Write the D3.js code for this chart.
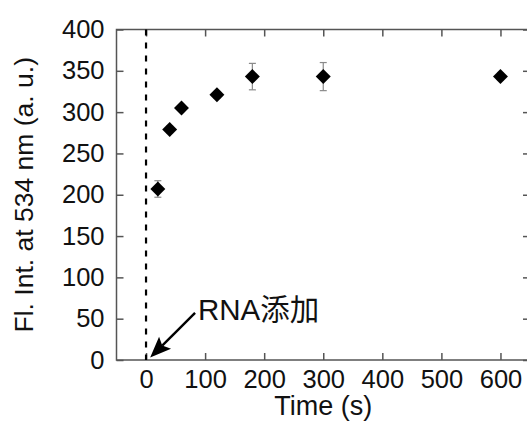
<!DOCTYPE html>
<html>
<head>
<meta charset="utf-8">
<script src="https://cdn.jsdelivr.net/npm/d3@7"></script>
<style>
  html, body { margin: 0; padding: 0; background: #fff; }
  svg { display: block; }
  text { font-family: "Liberation Sans", Arial, sans-serif; fill: #111; }
</style>
</head>
<body>
<svg id="chart" width="527" height="424"></svg>
<script>
// Fluorescence intensity at 534 nm after RNA addition
const times = [20, 40, 60, 120, 180, 300, 600];
const intensity = [207, 279, 305, 321, 343, 343, 343];
const errors = [10, 4, 4, 4, 16, 17, 4];

const xTicks = [0, 100, 200, 300, 400, 500, 600];
const yTicks = [0, 50, 100, 150, 200, 250, 300, 350, 400];
const xDomain = [-50, 650];
const yDomain = [0, 400];

// annotation in data units: arrow from label to the moment of addition
const arrowFrom = [83, 57];
const arrowTo = [7, 3];
const labelAt = [88, 48];
const labelText = "RNA添加";

const svg = d3.select("#chart");
const plotLeft = 116.5, plotRight = 530, plotTop = 29.5, plotBottom = 360;

const x = d3.scaleLinear().domain(xDomain).range([plotLeft, plotRight]);
const y = d3.scaleLinear().domain(yDomain).range([plotBottom, plotTop]);

const axisColor = "#555";
const tickLen = 7;

function styleAxis(g) {
  g.select(".domain").remove();
  g.selectAll(".tick line").attr("stroke", axisColor).attr("stroke-width", 1.5);
  g.selectAll(".tick text").attr("fill", "#111").style("font-size", "25.5px")
    .style("font-family", '"Liberation Sans", Arial, sans-serif');
}

// frame
svg.append("rect")
  .attr("x", plotLeft).attr("y", plotTop)
  .attr("width", plotRight - plotLeft).attr("height", plotBottom - plotTop)
  .attr("fill", "none").attr("stroke", axisColor).attr("stroke-width", 1.5);

svg.append("g").attr("transform", `translate(0,${plotBottom})`)
  .call(d3.axisBottom(x).tickValues(xTicks).tickSize(-tickLen).tickPadding(10))
  .call(styleAxis);
svg.append("g").attr("transform", `translate(0,${plotTop})`)
  .call(d3.axisTop(x).tickValues(xTicks).tickSize(-tickLen).tickFormat(""))
  .call(styleAxis);
svg.append("g").attr("transform", `translate(${plotLeft},0)`)
  .call(d3.axisLeft(y).tickValues(yTicks).tickSize(-tickLen).tickPadding(12))
  .call(styleAxis);
svg.append("g").attr("transform", `translate(${plotRight},0)`)
  .call(d3.axisRight(y).tickValues(yTicks).tickSize(-tickLen).tickFormat(""))
  .call(styleAxis);

// dashed marker at t = 0
svg.append("line")
  .attr("x1", x(0)).attr("x2", x(0))
  .attr("y1", y(yDomain[1])).attr("y2", y(yDomain[0]))
  .attr("stroke", "#000").attr("stroke-width", 2.2)
  .attr("stroke-dasharray", "6,7");

// error bars
const eb = svg.append("g").attr("stroke", "#8a8a8a").attr("stroke-width", 1.2);
times.forEach((t, i) => {
  const cx = x(t), y0 = y(intensity[i] - errors[i]), y1 = y(intensity[i] + errors[i]);
  eb.append("line").attr("x1", cx).attr("x2", cx).attr("y1", y0).attr("y2", y1);
  eb.append("line").attr("x1", cx - 3.5).attr("x2", cx + 3.5).attr("y1", y0).attr("y2", y0);
  eb.append("line").attr("x1", cx - 3.5).attr("x2", cx + 3.5).attr("y1", y1).attr("y2", y1);
});

// diamond markers
const diamond = d3.symbol().type(d3.symbolSquare).size(112);
svg.append("g").selectAll("path")
  .data(times.map((t, i) => [t, intensity[i]]))
  .join("path")
  .attr("d", diamond)
  .attr("transform", d => `translate(${x(d[0])},${y(d[1])}) rotate(45)`)
  .attr("fill", "#000");

// arrow annotation
const ax0 = x(arrowFrom[0]), ay0 = y(arrowFrom[1]);
const ax1 = x(arrowTo[0]), ay1 = y(arrowTo[1]);
const ang = Math.atan2(ay1 - ay0, ax1 - ax0);
const headLen = 21, headHalf = 8.5, notch = 4;
const bx = ax1 - headLen * Math.cos(ang), by = ay1 - headLen * Math.sin(ang);
const nx = -Math.sin(ang), ny = Math.cos(ang);
svg.append("line")
  .attr("x1", ax0).attr("y1", ay0)
  .attr("x2", bx + notch * Math.cos(ang)).attr("y2", by + notch * Math.sin(ang))
  .attr("stroke", "#000").attr("stroke-width", 2.4);
svg.append("path")
  .attr("d", `M${ax1},${ay1} L${bx + headHalf * nx},${by + headHalf * ny} ` +
             `L${bx + notch * Math.cos(ang)},${by + notch * Math.sin(ang)} ` +
             `L${bx - headHalf * nx},${by - headHalf * ny} Z`)
  .attr("fill", "#000");

svg.append("text")
  .attr("x", x(labelAt[0])).attr("y", y(labelAt[1]))
  .style("font-size", "29.5px")
  .style("font-family", '"Liberation Sans", "Noto Sans CJK JP", sans-serif')
  .text(labelText);

// axis titles
svg.append("text")
  .attr("x", (plotLeft + plotRight) / 2).attr("y", 415)
  .attr("text-anchor", "middle")
  .style("font-size", "27px")
  .text("Time (s)");

svg.append("text")
  .attr("transform", `translate(33,${(plotTop + plotBottom) / 2}) rotate(-90)`)
  .attr("text-anchor", "middle")
  .style("font-size", "26.5px")
  .text("Fl. Int. at 534 nm (a. u.)");
</script>
</body>
</html>
